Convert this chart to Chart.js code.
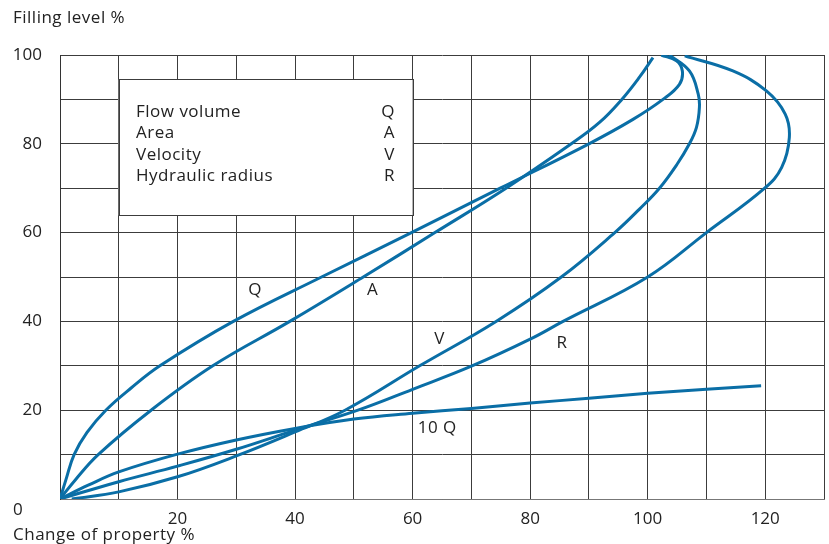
<!DOCTYPE html>
<html>
<head>
<meta charset="utf-8">
<script src="https://cdn.jsdelivr.net/npm/chart.js@4.4.1/dist/chart.umd.min.js"></script>
<style>
  html, body { margin: 0; padding: 0; background: #fff; }
  canvas { display: block; }
</style>
</head>
<body>
<canvas id="c" width="829" height="544"></canvas>
<script>
// ---- data ----
// Flow volume Q
const qX = [0, 1.0, 2.4, 4.6, 7.8, 12.1, 17.0, 29.5, 44.5, 59.8, 74.9, 90.0, 97.5, 102.6, 105.4, 105.9, 104.9, 102.3];
const qY = [0, 4.3, 10, 15, 20, 25, 30, 40, 50, 60, 70, 80, 85.5, 90, 93.4, 96.4, 98.7, 100];
// Area A
const aX = [0, 2.6, 6.5, 15.5, 26.0, 39.1, 51.6, 63.8, 75.9, 87.0, 91.8, 95.6, 98.6, 100.9];
const aY = [0, 4.3, 10, 20, 30, 40, 50, 60, 70, 80, 84.8, 90, 95, 99.4];
// Velocity V
const vX = [2, 10, 20, 30, 40, 48.5, 61.2, 74.2, 85.3, 94.4, 98.6, 102.0, 105.0, 107.1, 108.3, 108.8, 108.6, 107.1, 103.7];
const vY = [0, 1.6, 5.0, 9.7, 15.1, 20, 30, 40, 50, 60, 65.3, 70, 75.4, 80, 83.7, 88.2, 91.2, 96.4, 100];
// Hydraulic radius R
const rX = [0, 10, 20, 30, 40, 50.7, 60, 70, 80, 85.6, 100, 110, 119.9, 122.8, 124.1, 123.4, 120.2, 114.5, 106.3];
const rY = [0, 3.9, 7.4, 11.2, 15.5, 20, 24.7, 29.9, 36.0, 40, 50, 60, 70, 74.7, 81.4, 86.7, 91.9, 96.4, 99.8];
// 10 Q
const tX = [0, 4.8, 10, 20, 30, 40, 50, 60, 70, 80, 90, 100, 110, 119.3];
const tY = [0, 3.1, 6.1, 10.1, 13.3, 15.9, 18.0, 19.3, 20.4, 21.6, 22.7, 23.8, 24.7, 25.5];

const legendNames = ["Flow volume", "Area", "Velocity", "Hydraulic radius"];
const legendSymbols = ["Q", "A", "V", "R"];
const curveLabels = ["Q", "A", "V", "R", "10 Q"];
const curveLabelX = [33.2, 53.2, 64.6, 85.4, 64.2];
const curveLabelY = [47.0, 47.0, 36.1, 35.2, 15.9];

const xMin = 0, xMax = 130, yMin = 0, yMax = 100;
const tickStep = 10, labelStep = 20;

const BLUE = '#0a6ea6';
const GRID = '#3c3c3c';
const TEXT = '#222';
const FONT = '"Open Sans", Roboto, "DejaVu Sans", sans-serif';
const FSIZE = 17;

function pts(xs, ys) { return xs.map((x, i) => ({ x: x, y: ys[i] })); }

function setText(ctx) {
  ctx.fillStyle = TEXT;
  ctx.font = FSIZE + 'px ' + FONT;
  ctx.textBaseline = 'middle';
  try { ctx.letterSpacing = '0.5px'; } catch (e) {}
}

const textPlugin = {
  id: 'texts',
  beforeDatasetsDraw(chart) {
    const { ctx, scales: { x, y } } = chart;
    const l = x.getPixelForValue(10), r = x.getPixelForValue(60);
    const t = 79.5, b = 215.5;
    ctx.save();
    ctx.fillStyle = '#fff';
    ctx.fillRect(l, t, r - l, b - t);
    ctx.strokeStyle = GRID;
    ctx.lineWidth = 1;
    ctx.strokeRect(Math.round(l) + 0.5, t, Math.round(r - l), b - t);
    setText(ctx);
    legendNames.forEach((n, i) => {
      ctx.textAlign = 'left';
      ctx.fillText(n, 136, 112 + i * 21.4);
      ctx.textAlign = 'right';
      ctx.fillText(legendSymbols[i], 395, 112 + i * 21.4);
    });
    ctx.restore();
  },
  afterDraw(chart) {
    const { ctx, scales: { x, y } } = chart;
    ctx.save();
    setText(ctx);
    ctx.textAlign = 'center';
    curveLabels.forEach((s, i) => {
      ctx.fillText(s, x.getPixelForValue(curveLabelX[i]), y.getPixelForValue(curveLabelY[i]));
    });
    ctx.textAlign = 'left';
    ctx.fillText('Filling level %', 13, 18);
    ctx.fillText('Change of property %', 13, 535);
    ctx.fillText('0', 13, 510);
    ctx.restore();
  }
};

const mk = (xs, ys) => ({
  data: pts(xs, ys),
  borderColor: BLUE,
  borderWidth: 3,
  pointRadius: 0,
  tension: 0.4,
  cubicInterpolationMode: 'default',
  fill: false
});

new Chart(document.getElementById('c'), {
  type: 'line',
  data: {
    datasets: [mk(qX, qY), mk(aX, aY), mk(vX, vY), mk(rX, rY), mk(tX, tY)]
  },
  options: {
    responsive: false,
    animation: false,
    elements: { line: { tension: 0.4, capBezierPoints: false } },
    layout: { padding: { top: 55, right: 5, left: 0, bottom: 0 } },
    plugins: { legend: { display: false }, tooltip: { enabled: false } },
    scales: {
      x: {
        type: 'linear', min: xMin, max: xMax,
        afterFit: s => { s.height = 45; s.paddingLeft = 0; s.paddingRight = 0; },
        grid: { color: GRID, lineWidth: 1, drawTicks: false },
        border: { color: '#777', width: 1 },
        ticks: {
          stepSize: tickStep, autoSkip: false, maxRotation: 0, padding: 10,
          color: TEXT, font: { family: FONT, size: FSIZE },
          callback: v => (v % labelStep === 0 && v !== 0 && v <= 120) ? String(v) : ''
        }
      },
      y: {
        type: 'linear', min: yMin, max: yMax,
        afterFit: s => { s.width = 60; s.paddingTop = 0; s.paddingBottom = 0; },
        grid: { color: GRID, lineWidth: 1, drawTicks: false },
        border: { color: '#333', width: 1 },
        ticks: {
          stepSize: tickStep, autoSkip: false, padding: 18,
          color: TEXT, font: { family: FONT, size: FSIZE },
          callback: v => (v % labelStep === 0 && v !== 0) ? String(v) : ''
        }
      }
    }
  },
  plugins: [textPlugin]
});
</script>
</body>
</html>
